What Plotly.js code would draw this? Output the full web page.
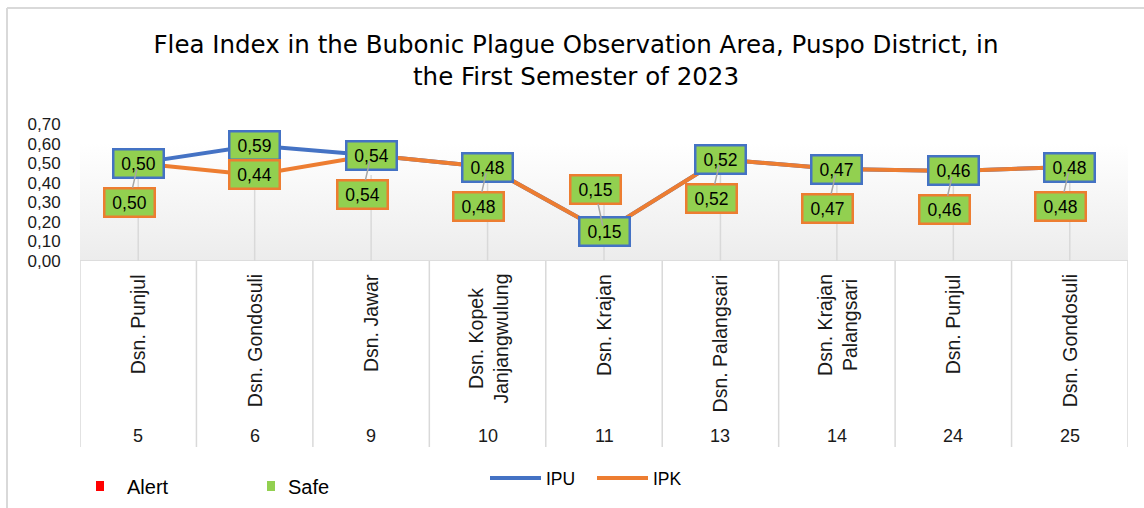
<!DOCTYPE html>
<html>
<head>
<meta charset="utf-8">
<script src="https://cdn.plot.ly/plotly-3.0.1.min.js"></script>
<style>html,body{margin:0;padding:0;background:#fff;}#chart{width:1144px;height:508px;}</style>
</head>
<body>
<div id="chart"></div>
<script>
// ---- data ----
const codes = ['5', '6', '9', '10', '11', '13', '14', '24', '25'];
const villages = ['Dsn. Punjul', 'Dsn. Gondosuli', 'Dsn. Jawar', 'Dsn. Kopek<br>Janjangwulung', 'Dsn. Krajan',
  'Dsn. Palangsari', 'Dsn. Krajan<br>Palangsari', 'Dsn. Punjul', 'Dsn. Gondosuli'];
const ipu = [0.50, 0.59, 0.54, 0.48, 0.15, 0.52, 0.47, 0.46, 0.48];
const ipk = [0.50, 0.44, 0.54, 0.48, 0.15, 0.52, 0.47, 0.46, 0.48];
const yTicks = [0.00, 0.10, 0.20, 0.30, 0.40, 0.50, 0.60, 0.70];
const legendItems = ['Alert', 'Safe', 'IPU', 'IPK'];
const chartTitle = 'Flea Index in the Bubonic Plague Observation Area, Puspo District, in<br>the First Semester of 2023';

// ---- layout helpers ----
const W = 1144, H = 508;
const L = 80, R = 1128, T = 124, B = 261;
const px = x => (x - L) / (R - L);
const py = y => (B - y) / (B - T);
const idx = codes.map((c, i) => i);
const fmt = v => v.toFixed(2).replace('.', ',');
const BLUE = '#4472C4', ORANGE = '#ED7D31', GREEN = '#92D050', GRID = '#d9d9d9';
const FONT = 'Liberation Sans, Arial, sans-serif';

const traces = [];
// plot-area gradient background
traces.push({
  x: [-0.5, 8.5, 8.5, -0.5, -0.5], y: [0, 0, 0.6, 0.6, 0],
  mode: 'lines', fill: 'toself', line: {width: 0, color: 'rgba(0,0,0,0)'},
  fillgradient: {type: 'vertical', colorscale: [[0, '#ececec'], [1, '#ffffff']]},
  hoverinfo: 'skip', showlegend: false
});
// vertical gridlines at category centres
const gx = [], gy = [];
idx.forEach(i => { gx.push(i, i, null); gy.push(0, 0.44, null); });
traces.push({x: gx, y: gy, mode: 'lines', line: {color: GRID, width: 1.5}, hoverinfo: 'skip', showlegend: false});
// series
traces.push({x: idx, y: ipu, name: 'IPU', mode: 'lines', line: {color: BLUE, width: 4}, showlegend: false});
traces.push({x: idx, y: ipk, name: 'IPK', mode: 'lines', line: {color: ORANGE, width: 4}, showlegend: false});

const shapes = [];
// axis baseline
shapes.push({type: 'line', xref: 'x', yref: 'y', x0: -0.5, x1: 8.5, y0: 0, y1: 0, line: {color: GRID, width: 1.5}});
// category separators below the axis
for (let i = 0; i <= codes.length; i++) {
  shapes.push({type: 'line', xref: 'x', yref: 'paper', x0: i - 0.5, x1: i - 0.5, y0: 0, y1: py(447), line: {color: GRID, width: 1.5}});
}
// chart frame (left & top)
shapes.push({type: 'line', xref: 'paper', yref: 'paper', x0: px(7), x1: px(7), y0: py(8), y1: py(510), line: {color: GRID, width: 2}});
shapes.push({type: 'line', xref: 'paper', yref: 'paper', x0: px(7), x1: px(1146), y0: py(8), y1: py(8), line: {color: GRID, width: 2}});
// legend symbols
shapes.push({type: 'rect', xref: 'paper', yref: 'paper', x0: px(96), x1: px(104), y0: py(481), y1: py(491), fillcolor: '#FF0000', line: {width: 0}});
shapes.push({type: 'rect', xref: 'paper', yref: 'paper', x0: px(267), x1: px(275), y0: py(481), y1: py(491), fillcolor: GREEN, line: {width: 0}});
shapes.push({type: 'line', xref: 'paper', yref: 'paper', x0: px(490), x1: px(541), y0: py(478), y1: py(478), line: {color: BLUE, width: 4}});
shapes.push({type: 'line', xref: 'paper', yref: 'paper', x0: px(597), x1: px(648), y0: py(478), y1: py(478), line: {color: ORANGE, width: 4}});

const annotations = [];
// category labels
idx.forEach(i => {
  annotations.push({xref: 'x', yref: 'paper', x: i, y: 0, yshift: -11, yanchor: 'top', xanchor: 'center',
    text: villages[i], textangle: -90, showarrow: false, align: 'center',
    font: {family: FONT, size: 19.5, color: '#1a1a1a'}});
  annotations.push({xref: 'x', yref: 'paper', x: i, y: 0, yshift: -(436 - B), yanchor: 'middle', xanchor: 'center',
    text: codes[i], showarrow: false, font: {family: FONT, size: 18, color: '#1a1a1a'}});
});
// data labels
const boxCommon = {xref: 'x', yref: 'y', width: 48, height: 26, borderpad: 0, borderwidth: 2.5, bgcolor: GREEN,
  font: {family: FONT, size: 17.5, color: '#000'}};
idx.forEach(i => {
  annotations.push(Object.assign({}, boxCommon, {x: i, y: ipu[i], text: fmt(ipu[i]), showarrow: false, bordercolor: BLUE}));
});
idx.forEach(i => {
  const same = ipk[i] === ipu[i];
  const a = Object.assign({}, boxCommon, {x: i, y: ipk[i], text: fmt(ipk[i]), bordercolor: ORANGE});
  if (same) {
    Object.assign(a, {showarrow: true, arrowhead: 0, arrowwidth: 1.5, arrowcolor: '#a6a6a6', standoff: 6,
      ax: -9, ay: ipk[i] < 0.3 ? -42 : 39});
  } else {
    a.showarrow = false;
  }
  annotations.push(a);
});
// legend labels
annotations.push({xref: 'paper', yref: 'paper', x: px(125), y: py(487), xanchor: 'left', yanchor: 'middle', text: legendItems[0], showarrow: false, font: {family: FONT, size: 20, color: '#000'}});
annotations.push({xref: 'paper', yref: 'paper', x: px(286), y: py(487), xanchor: 'left', yanchor: 'middle', text: legendItems[1], showarrow: false, font: {family: FONT, size: 20, color: '#000'}});
annotations.push({xref: 'paper', yref: 'paper', x: px(544), y: py(479), xanchor: 'left', yanchor: 'middle', text: legendItems[2], showarrow: false, font: {family: FONT, size: 17.5, color: '#000'}});
annotations.push({xref: 'paper', yref: 'paper', x: px(651), y: py(479), xanchor: 'left', yanchor: 'middle', text: legendItems[3], showarrow: false, font: {family: FONT, size: 17.5, color: '#000'}});

const layout = {
  width: W, height: H,
  margin: {l: L, r: W - R, t: T, b: H - B, pad: 0},
  paper_bgcolor: '#fff', plot_bgcolor: '#fff',
  separators: ',.',
  showlegend: false,
  hovermode: false,
  title: {text: chartTitle, xref: 'paper', x: px(576), xanchor: 'center', yref: 'container', y: 1 - 53 / H, yanchor: 'top',
    font: {family: 'DejaVu Sans, sans-serif', size: 24.5, color: '#000'}},
  xaxis: {range: [-0.5, 8.5], showticklabels: false, showgrid: false, zeroline: false, showline: false, ticks: '', fixedrange: true},
  yaxis: {range: [0, 0.7], tickvals: yTicks, tickformat: '.2f', showgrid: false, zeroline: false, showline: false,
    ticks: 'outside', ticklen: 15, tickcolor: 'rgba(0,0,0,0)', tickfont: {family: FONT, size: 17, color: '#1a1a1a'}, fixedrange: true},
  shapes: shapes,
  annotations: annotations
};

Plotly.newPlot('chart', traces, layout, {displayModeBar: false, staticPlot: true});
</script>
</body>
</html>
